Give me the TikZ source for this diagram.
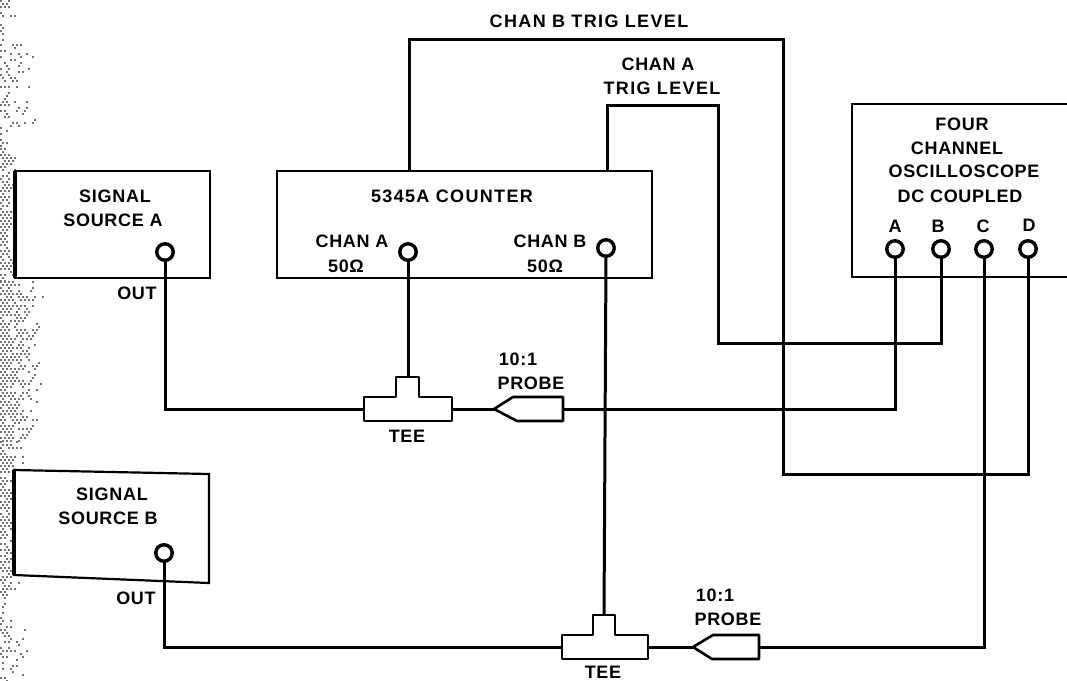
\documentclass[tikz,border=0pt]{standalone}
\usepackage{fontspec}
\setmainfont{Liberation Sans}[LetterSpace=4]
\tikzset{
  box/.style={draw=black,line width=2.2pt,fill=white,inner sep=0pt,outer sep=0pt},
  edgeline/.style={draw=black,line width=2.2pt,line join=miter},
  wire/.style={draw=black,line width=3pt,line join=miter},
  port/.style={circle,draw=black,line width=3.4pt,fill=white,minimum size=16.5pt,inner sep=0pt,outer sep=0pt},
  part/.style={draw=black,line width=2.6pt,fill=white,line join=round},
  lab/.style={inner sep=0pt,outer sep=0pt,font=\fontsize{18pt}{20pt}\selectfont\bfseries,anchor=center},
  widelab/.style={lab,font=\fontsize{18pt}{20pt}\selectfont\bfseries\addfontfeature{LetterSpace=7.5}}
}
\begin{document}
\begin{tikzpicture}[x=1pt,y=-1pt]
\useasboundingbox (0,0) rectangle (1067,680);
% halftone at the left edge of the scan
\pgfmathsetseed{11}
\foreach \ya/\yb/\w/\q in {0/17/16/0.7,18/40/4/0.5,44/126/36/0.45,127/147/8/0.8,148/280/17/0.9,281/440/42/0.9,441/590/24/0.9,591/616/9/0.7,617/680/30/0.55}{
  \pgfmathtruncatemacro\nrows{(\yb-\ya)/3}
  \foreach \i in {0,...,\nrows}{
    \pgfmathtruncatemacro\ncols{\w/4}
    \foreach \j in {0,...,\ncols}{
      \pgfmathsetmacro\dx{4*\j+2*mod(\i,2)}
      \pgfmathsetmacro\dy{\ya+3*\i}
      \pgfmathtruncatemacro\keep{rnd<\q*(1.05-\dx/\w)?1:0}
      \ifnum\keep=1
        \fill[black!55] (\dx,\dy) rectangle ++(2,2);
      \fi
    }
  }
}
% boxes
\node[box,minimum width=195pt,minimum height=107pt] (srcA) at (112.5,224.5) {};
\node[box,minimum width=375pt,minimum height=107pt] (counter) at (464.5,224.5) {};
\coordinate (bTL) at (14,470);
\coordinate (bTR) at (209,474);
\coordinate (bBR) at (209,583);
\coordinate (bBL) at (14,575);
\draw[edgeline,fill=white] (bTL) -- (bTR) -- (bBR) -- (bBL) -- cycle;
\draw[edgeline,line width=3.5pt] (srcA.north west) -- (srcA.south west);
\draw[edgeline,line width=3.5pt] (bTL) -- (bBL);
\coordinate (sTR) at (1067,104);
\coordinate (sTL) at (852,104);
\coordinate (sBL) at (852,277);
\coordinate (sBR) at (1067,277);
\draw[edgeline] (sTR) -- (sTL) -- (sBL) -- (sBR);
% ports
\node[port] (pSA) at (165,252) {};
\node[port] (pSB) at (164,553) {};
\node[port] (pCA) at (408,252) {};
\node[port] (pCB) at (606,248) {};
\node[port] (pA) at (895,249) {};
\node[port] (pB) at (941,249) {};
\node[port] (pC) at (984,249) {};
\node[port] (pD) at (1028,249) {};
% tee and probe connection points
\coordinate (t1L) at (364,409);
\coordinate (t1R) at (452,409);
\coordinate (t1T) at (407.5,377);
\coordinate (pr1T) at (494,409);
\coordinate (pr1R) at (563,409);
\coordinate (t2L) at (562,647);
\coordinate (t2R) at (648,647);
\coordinate (t2T) at (604,615);
\coordinate (pr2T) at (693,647);
\coordinate (pr2R) at (759,647);
\coordinate (trigB) at (409,171);
\coordinate (trigA) at (607,171);
% wires
\draw[wire] (pSA.south) |- (t1L);
\draw[wire] (pCA.south) -- (pCA.south |- t1T);
\draw[wire] (t1R) -- (pr1T);
\draw[wire] (pr1R) -| (pA.south);
\draw[wire] (pSB.south) |- (t2L);
\draw[wire] (pCB.south) -- (t2T);
\draw[wire] (t2R) -- (pr2T);
\draw[wire] (pr2R) -| (pC.south);
\draw[wire] (trigA) -- (607,105) -- (718,105) -- (718,343) -- (941,343) -- (pB.south);
\draw[wire] (trigB) -- (409,39) -- (783,39) -- (783,474) -- (1028,474) -- (pD.south);
% tees
\draw[part] (t1L) -- (364,397) -- (396,397) -- (396,377) -- (419,377) -- (419,397) -- (452,397) -- (t1R) -- (452,421) -- (364,421) -- cycle;
\draw[part] (t2L) -- (562,635) -- (593,635) -- (593,615) -- (615,615) -- (615,635) -- (648,635) -- (t2R) -- (648,659) -- (562,659) -- cycle;
% probes
\draw[part] (pr1T) -- (513,397) -- (563,397) -- (pr1R) -- (563,421) -- (517,421) -- cycle;
\draw[part] (pr2T) -- (713,635) -- (759,635) -- (pr2R) -- (759,659) -- (712,659) -- cycle;
% labels
\node[lab] (lSA1) at (115,196) {SIGNAL};
\node[lab] (lSA2) at (113,220) {SOURCE A};
\node[lab] (lOA) at (137,293) {OUT};
\node[lab] (lSB1) at (112,494) {SIGNAL};
\node[lab] (lSB2) at (108,518) {SOURCE B};
\node[lab] (lOB) at (136,598) {OUT};
\node[widelab] (lC) at (452,196) {5345A COUNTER};
\node[lab] (lCA) at (352,241) {CHAN A};
\node[lab] (lCA5) at (346,266) {50Ω};
\node[lab] (lCB) at (550,241) {CHAN B};
\node[lab] (lCB5) at (545,266) {50Ω};
\node[widelab] (lTB) at (589,21) {CHAN B TRIG LEVEL};
\node[lab] (lTA1) at (658,64) {CHAN A};
\node[widelab] (lTA2) at (662,88) {TRIG LEVEL};
\node[lab] (lS1) at (962,124) {FOUR};
\node[lab] (lS2) at (957,148) {CHANNEL};
\node[lab] (lS3) at (964,171) {OSCILLOSCOPE};
\node[lab] (lS4) at (960,196) {DC COUPLED};
\node[lab] (lA) at (895,226) {A};
\node[lab] (lB) at (938,226) {B};
\node[lab] (lCc) at (983,226) {C};
\node[lab] (lD) at (1029,225) {D};
\node[lab] (lP1a) at (518,359) {10:1};
\node[lab] (lP1b) at (531,383) {PROBE};
\node[lab] (lT1) at (407,436) {TEE};
\node[lab] (lP2a) at (715,595) {10:1};
\node[lab] (lP2b) at (728,619) {PROBE};
\node[lab] (lT2) at (603,672) {TEE};
\end{tikzpicture}
\end{document}
